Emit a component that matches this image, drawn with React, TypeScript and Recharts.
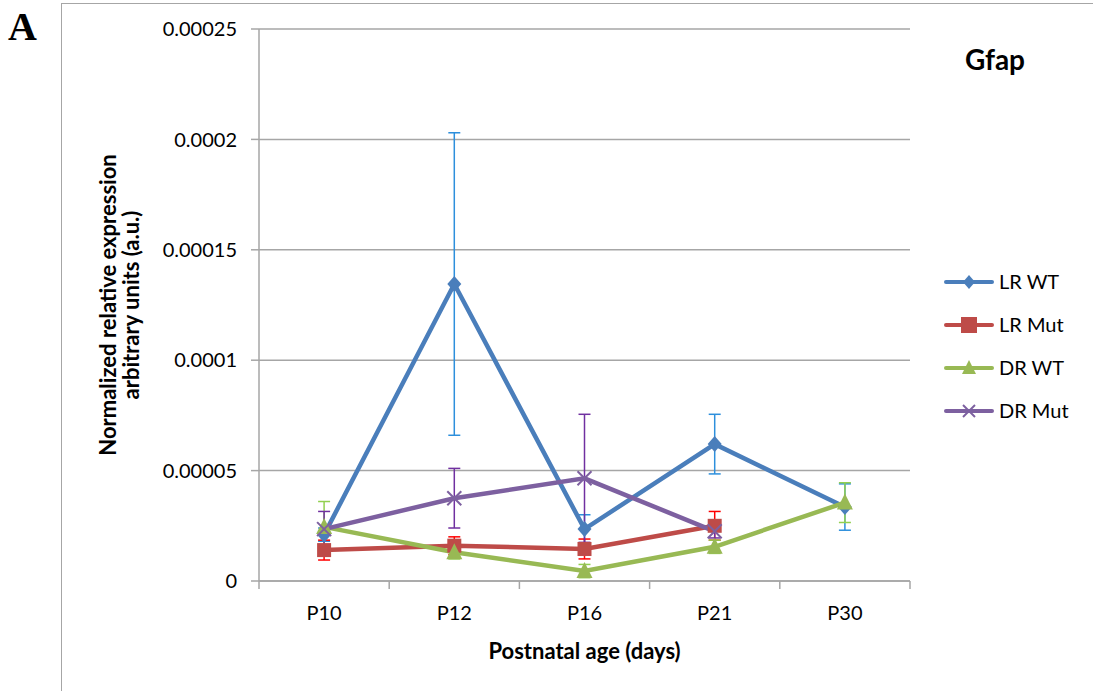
import { LineChart, Line, XAxis, YAxis, CartesianGrid, ErrorBar } from "recharts";

const categories = ["P10", "P12", "P16", "P21", "P30"];
const yTicks = [0, 0.00005, 0.0001, 0.00015, 0.0002, 0.00025];
const yTickLabels = ["0", "0.00005", "0.0001", "0.00015", "0.0002", "0.00025"];

const lrWt = [2.1e-5, 1.345e-4, 2.35e-5, 6.2e-5, 3.35e-5];
const lrWtErr = [3e-6, 6.85e-5, 6.5e-6, 1.35e-5, 1.05e-5];
const lrMut = [1.4e-5, 1.6e-5, 1.45e-5, 2.5e-5, null];
const lrMutErr = [4.5e-6, 4e-6, 4.5e-6, 6.5e-6, null];
const drWt = [2.45e-5, 1.3e-5, 4.5e-6, 1.55e-5, 3.55e-5];
const drWtErr = [1.15e-5, 3e-6, 3e-6, 3e-6, 9e-6];
const drMut = [2.35e-5, 3.75e-5, 4.65e-5, 2.25e-5, null];
const drMutErr = [8e-6, 1.35e-5, 2.9e-5, 3e-6, null];

const data = categories.map((age, i) => ({
  age,
  lrWt: lrWt[i],
  lrWtErr: lrWtErr[i],
  lrMut: lrMut[i],
  lrMutErr: lrMutErr[i],
  drWt: drWt[i],
  drWtErr: drWtErr[i],
  drMut: drMut[i],
  drMutErr: drMutErr[i],
}));

const FONT = "Lato, 'Noto Sans', sans-serif";
const W = 1093;
const H = 691;
const PLOT_LEFT = 259;
const PLOT_RIGHT = 910;
const PLOT_TOP = 29;
const PLOT_BOTTOM = 581;
const HALF_BAND = (PLOT_RIGHT - PLOT_LEFT) / categories.length / 2;
const GRID = "#a6a6a6";

type Shape = "diamond" | "square" | "triangle" | "cross";

function marker(shape: Shape, cx: number, cy: number, color: string, s = 7) {
  if (shape === "diamond")
    return <path d={`M${cx},${cy - s - 1} L${cx + s},${cy} L${cx},${cy + s + 1} L${cx - s},${cy} Z`} fill={color} />;
  if (shape === "square")
    return <rect x={cx - s} y={cy - s} width={2 * s} height={2 * s} fill={color} />;
  if (shape === "triangle")
    return <path d={`M${cx},${cy - s - 2} L${cx + s + 1},${cy + s} L${cx - s - 1},${cy + s} Z`} fill={color} />;
  return (
    <g stroke={color} strokeWidth={2}>
      <line x1={cx - s} y1={cy - s} x2={cx + s} y2={cy + s} />
      <line x1={cx - s} y1={cy + s} x2={cx + s} y2={cy - s} />
    </g>
  );
}

const makeDot = (shape: Shape, color: string) => (props: any) => {
  const { cx, cy, index, value } = props;
  if (value == null || cx == null || cy == null) return <g key={`e-${shape}-${index}`} />;
  return <g key={`d-${shape}-${index}`}>{marker(shape, cx, cy, color)}</g>;
};

const series = [
  { key: "lrWt", name: "LR WT", color: "#4a7ebb", err: "#2d8fdc", shape: "diamond" as Shape },
  { key: "lrMut", name: "LR Mut", color: "#be4b48", err: "#ff0000", shape: "square" as Shape },
  { key: "drWt", name: "DR WT", color: "#98b954", err: "#92d050", shape: "triangle" as Shape },
  { key: "drMut", name: "DR Mut", color: "#7d60a0", err: "#7030a0", shape: "cross" as Shape },
];

function AgeTick(props: any) {
  const { x, payload, index } = props;
  return (
    <g>
      <line x1={x - HALF_BAND} y1={PLOT_BOTTOM} x2={x - HALF_BAND} y2={PLOT_BOTTOM + 8} stroke={GRID} strokeWidth={1.5} />
      {index === categories.length - 1 && (
        <line x1={x + HALF_BAND} y1={PLOT_BOTTOM} x2={x + HALF_BAND} y2={PLOT_BOTTOM + 8} stroke={GRID} strokeWidth={1.5} />
      )}
      <text x={x} y={PLOT_BOTTOM + 39} textAnchor="middle" fontSize={20} fill="#000" fontFamily={FONT}>
        {payload.value}
      </text>
    </g>
  );
}

function LegendBox() {
  return (
    <svg width={150} height={180}>
      {series.map((s, i) => {
        const y = 14 + i * 43;
        return (
          <g key={s.key}>
            <line x1={2} y1={y} x2={48} y2={y} stroke={s.color} strokeWidth={4} strokeLinecap="round" />
            {marker(s.shape, 25, y, s.color, s.shape === "square" ? 8 : 6)}
            <text x={55} y={y + 7} fontSize={20} fontFamily={FONT} fill="#000">
              {s.name}
            </text>
          </g>
        );
      })}
    </svg>
  );
}

export default function App() {
  return (
    <div style={{ position: "absolute", left: 0, top: 0, width: W, height: H, background: "#fff", overflow: "hidden" }}>
      <div style={{ position: "absolute", left: 61, top: 3, width: 1100, height: 720, border: `1.5px solid ${GRID}` }} />
      <svg style={{ position: "absolute", left: 0, top: 0 }} width={60} height={60}>
        <text x={8} y={40} fontSize={40} fontWeight="bold" fontFamily="'Liberation Serif', serif" fill="#000">
          A
        </text>
      </svg>
      <div style={{ position: "absolute", left: 0, top: 0 }}>
        <LineChart width={W} height={H} data={data} margin={{ top: PLOT_TOP, right: W - PLOT_RIGHT, bottom: 0, left: 0 }}>
          <CartesianGrid vertical={false} stroke={GRID} strokeWidth={1.5} />
          <XAxis
            dataKey="age"
            scale="band"
            height={H - PLOT_BOTTOM}
            axisLine={{ stroke: GRID, strokeWidth: 1.5 }}
            tickLine={false}
            tick={<AgeTick />}
            interval={0}
            label={{
              content: () => (
                <text x={(PLOT_LEFT + PLOT_RIGHT) / 2} y={659} textAnchor="middle" fontSize={22} fontWeight="bold" fontFamily={FONT} fill="#000">
                  Postnatal age (days)
                </text>
              ),
            }}
          />
          <YAxis
            width={PLOT_LEFT}
            domain={[0, 0.00025]}
            ticks={yTicks}
            tickFormatter={(v: number) => yTickLabels[yTicks.indexOf(v)] ?? String(v)}
            axisLine={{ stroke: GRID, strokeWidth: 1.5 }}
            tickLine={{ stroke: GRID, strokeWidth: 1.5 }}
            tickSize={8}
            tickMargin={14}
            tick={{ fontSize: 20, fill: "#000", fontFamily: FONT }}
            label={{
              content: () => {
                const cy = (PLOT_TOP + PLOT_BOTTOM) / 2;
                return (
                  <g fontSize={22} fontWeight="bold" fontFamily={FONT} fill="#000">
                    <text x={116} y={cy} textAnchor="middle" transform={`rotate(-90 116 ${cy})`}>
                      Normalized relative expression
                    </text>
                    <text x={139} y={cy} textAnchor="middle" transform={`rotate(-90 139 ${cy})`}>
                      arbitrary units (a.u.)
                    </text>
                  </g>
                );
              },
            }}
          />
          {series.map((s) => (
            <Line
              key={s.key}
              dataKey={s.key}
              name={s.name}
              stroke={s.color}
              strokeWidth={4.5}
              dot={makeDot(s.shape, s.color)}
              activeDot={false}
              connectNulls={false}
              isAnimationActive={false}
            >
              <ErrorBar dataKey={`${s.key}Err`} direction="y" width={6} stroke={s.err} strokeWidth={1.5} />
            </Line>
          ))}
        </LineChart>
      </div>
      <div style={{ position: "absolute", left: 944, top: 268 }}>
        <LegendBox />
      </div>
      <div
        style={{
          position: "absolute",
          left: 935,
          top: 42,
          width: 120,
          textAlign: "center",
          fontFamily: FONT,
          fontWeight: "bold",
          fontSize: 28,
          lineHeight: "34px",
          color: "#000",
        }}
      >
        Gfap
      </div>
    </div>
  );
}
